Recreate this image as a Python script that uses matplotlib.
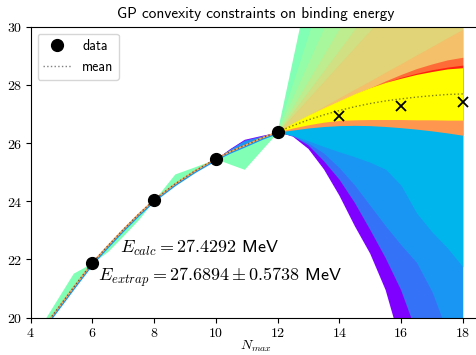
import matplotlib
matplotlib.use("Agg")
import matplotlib.pyplot as plt
from matplotlib import patheffects
from matplotlib.lines import Line2D
from matplotlib.ticker import FuncFormatter, MultipleLocator

plt.rcParams["font.family"] = ["cmss10", "DejaVu Sans"]
plt.rcParams["mathtext.fontset"] = "cm"
plt.rcParams["axes.unicode_minus"] = False

# ---- calculated points ----
n_data = [6, 8, 10, 12]
e_data = [21.89, 24.05, 25.46, 26.38]
n_check = [14, 16, 18]
e_check = [26.94, 27.26, 27.4292]

e_calc = 27.4292
e_extrap = 27.6894
e_extrap_err = 0.5738

# ---- interpolation region (Nmax <= 12) ----
x_left = [4.4, 5.0, 5.38, 6.0, 6.5, 7.0, 7.5, 8.0, 8.67, 9.3, 10.0, 10.45, 10.92, 11.5, 12.0]
mean_left = [19.64, 20.49, 21.03, 21.89, 22.47, 23.03, 23.56, 24.05, 24.59, 25.03,
             25.46, 25.70, 25.91, 26.18, 26.38]
green_left_lo = [19.62, 20.46, 21.00, 21.89, 22.28, 22.82, 23.38, 24.05, 24.55, 24.99,
                 25.46, 25.28, 25.10, 25.79, 26.38]
green_left_hi = [19.85, 20.88, 21.53, 21.89, 22.50, 23.06, 23.59, 24.05, 24.94, 25.18,
                 25.46, 25.72, 25.95, 26.22, 26.38]

x_bump = [10.0, 10.45, 10.92, 11.5, 12.0]
mean_bump = [25.46, 25.70, 25.91, 26.18, 26.38]
purple_bump = [25.46, 25.81, 26.13, 26.27, 26.38]
royal_bump = [25.46, 25.79, 26.10, 26.25, 26.38]
dodger_bump = [25.46, 25.77, 26.07, 26.23, 26.38]

# ---- extrapolation region (Nmax >= 12) ----
x_right = [12.0, 12.5, 13.0, 13.5, 14.0, 14.5, 15.0, 15.5, 16.0, 16.5, 17.0, 17.5, 18.0]
mean_right = [26.38, 26.60, 26.80, 26.97, 27.12, 27.25, 27.36, 27.45, 27.52, 27.58,
              27.63, 27.67, 27.6894]

purple_lo = [26.38, 26.22, 25.80, 25.10, 24.20, 23.15, 22.20, 20.95, 19.10, 17.0, 15.0, 13.0, 11.0]
royal_lo = [26.38, 26.24, 25.92, 25.38, 24.75, 23.95, 23.02, 22.05, 20.95, 19.50, 18.0, 16.5, 15.0]
dodger_lo = [26.38, 26.25, 26.00, 25.65, 25.15, 24.55, 23.85, 23.15, 22.50, 21.90, 20.90, 19.50, 18.0]
sky_lo = [26.38, 26.26, 26.08, 25.88, 25.70, 25.53, 25.34, 25.10, 24.55, 23.60, 22.95, 22.40, 21.75]

aqua_hi = [26.38, 28.86, 31.34, 33.8, 36.3, 38.8, 41.3, 43.7, 46.2, 48.7, 51.2, 53.7, 56.1]
mint_hi = [26.38, 28.03, 29.67, 31.32, 32.96, 34.6, 36.25, 37.9, 39.5, 41.2, 42.8, 44.5, 46.1]
lime_hi = [26.38, 27.56, 28.73, 29.91, 31.08, 32.26, 33.4, 34.6, 35.8, 36.96, 38.1, 39.3, 40.5]
pale_hi = [26.38, 27.27, 28.16, 29.05, 29.95, 30.84, 31.73, 32.62, 33.51, 34.4, 35.3, 36.2, 37.1]
olive_hi = [26.38, 27.09, 27.79, 28.50, 29.21, 29.92, 30.62, 31.33, 32.04, 32.74, 33.45, 34.16, 34.86]
khaki_hi = [26.38, 26.96, 27.55, 28.13, 28.72, 29.30, 29.88, 30.47, 31.05, 31.64, 32.22, 32.80, 33.39]
tan_hi = [26.38, 26.67, 26.97, 27.26, 27.56, 27.85, 28.14, 28.44, 28.73, 29.03, 29.32, 29.62, 29.91]
coral_hi = [26.38, 26.68, 26.95, 27.20, 27.44, 27.68, 27.90, 28.14, 28.36, 28.56, 28.72, 28.86, 28.95]
red_hi = [26.38, 26.68, 26.95, 27.20, 27.44, 27.68, 27.90, 28.09, 28.26, 28.40, 28.52, 28.61, 28.68]

orange_lo = [26.38, 26.45, 26.52, 26.57, 26.60, 26.61, 26.60, 26.57, 26.53, 26.48, 26.42, 26.35, 26.27]
yellow_lo = [26.38, 26.52, 26.63, 26.72, 26.78, 26.80, 26.81, 26.81, 26.81, 26.80, 26.80, 26.79, 26.79]
yellow_hi = [26.38, 26.70, 26.97, 27.22, 27.46, 27.70, 27.91, 28.09, 28.23, 28.36, 28.46, 28.55, 28.59]

cmap = plt.get_cmap("rainbow")

fig = plt.figure(figsize=(4.76, 3.55), dpi=100)
ax = fig.add_axes([0.0645, 0.1051, 0.9466, 0.8197])

# bands below the mean in the extrapolation region
for lo, level in [(purple_lo, 0.0), (royal_lo, 0.15), (dodger_lo, 0.2), (sky_lo, 0.25)]:
    ax.fill_between(x_right, lo, mean_right, color=cmap(level), lw=0)

# bands above the mean in the extrapolation region
for hi, level in [(aqua_hi, 0.50), (mint_hi, 0.54), (lime_hi, 0.58), (pale_hi, 0.62),
                  (olive_hi, 0.66), (khaki_hi, 0.69), (tan_hi, 0.73),
                  (coral_hi, 0.86), (red_hi, 0.96)]:
    ax.fill_between(x_right, mean_right, hi, color=cmap(level), lw=0)

ax.fill_between(x_right, orange_lo, mean_right, color=cmap(0.80), lw=0)
ax.fill_between(x_right, yellow_lo, yellow_hi, color="yellow", lw=0)

# interpolation region
for hi, level in [(purple_bump, 0.0), (royal_bump, 0.15), (dodger_bump, 0.2)]:
    ax.fill_between(x_bump, mean_bump, hi, color=cmap(level), lw=0)
ax.fill_between(x_left, green_left_lo, green_left_hi, color=cmap(0.5), lw=0)
ax.plot(x_left, mean_left, color=cmap(0.78), lw=1.1, solid_capstyle="butt",
        path_effects=[patheffects.SimpleLineShadow(offset=(0.5, -0.8),
                                                   shadow_color=cmap(0.2), alpha=1.0),
                      patheffects.Normal()])

# mean curve
ax.plot(x_left + x_right[1:], mean_left + mean_right[1:], color="k", ls=":", lw=1.0, alpha=0.5)

ax.plot(n_data, e_data, "o", color="k", ms=8.5, zorder=5)
ax.plot(n_check, e_check, "x", color="k", ms=7, mew=1.3, zorder=5)

ax.text(6.89, 22.23, r"$E_{calc} = %.4f$ MeV" % e_calc, fontsize=13, va="baseline")
ax.text(6.17, 21.26, r"$E_{extrap} = %.4f \pm %.4f$ MeV" % (e_extrap, e_extrap_err),
        fontsize=13, va="baseline")

ax.set_xlim(4, 18.6)
ax.set_ylim(20, 30)
ax.xaxis.set_major_locator(MultipleLocator(2))
ax.yaxis.set_major_locator(MultipleLocator(2))
fmt = FuncFormatter(lambda v, p: r"$\mathrm{%d}$" % round(v))
ax.xaxis.set_major_formatter(fmt)
ax.yaxis.set_major_formatter(fmt)
ax.tick_params(labelsize=10, length=3.5, pad=2.5)
ax.set_xlabel(r"$N_{max}$", fontsize=10, labelpad=-1)
ax.set_title("GP convexity constraints on binding energy", fontsize=11, pad=6)

handles = [Line2D([], [], marker="o", ls="none", color="k", ms=8.5, label="data"),
           Line2D([], [], color="k", ls=":", lw=1.0, alpha=0.5, label="mean")]
ax.legend(handles=handles, loc="upper left", fontsize=10)

fig.savefig("out.png", dpi=100)
